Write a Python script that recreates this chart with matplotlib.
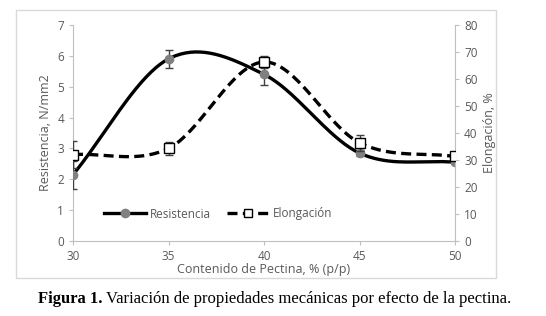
import matplotlib.pyplot as plt
import matplotlib.patches as patches
import numpy as np

pectina = [30, 35, 40, 45, 50]
resistencia = [2.15, 5.9, 5.4, 2.85, 2.55]
resistencia_err = [0.45, 0.3, 0.35, 0.1, 0.05]
elongacion = [32.0, 34.3, 66.3, 36.4, 31.3]
elongacion_err = [5.0, 2.5, 2.2, 3.0, 1.0]

GRAY = '#595959'
AXIS = '#bfbfbf'


def smooth(x, y, n=40):
    # excel-like smoothed line (catmull-rom through the points)
    x = np.asarray(x, float)
    y = np.asarray(y, float)
    px = np.concatenate(([2*x[0]-x[1]], x, [2*x[-1]-x[-2]]))
    py = np.concatenate(([2*y[0]-y[1]], y, [2*y[-1]-y[-2]]))
    xs, ys = [], []
    t = np.linspace(0, 1, n)
    for i in range(1, len(px)-2):
        p0, p1, p2, p3 = [np.array([px[j], py[j]]) for j in range(i-1, i+3)]
        c1 = p1 + (p2 - p0) / 6.0
        c2 = p2 - (p3 - p1) / 6.0
        pts = ((1-t)**3)[:, None]*p1 + (3*(1-t)**2*t)[:, None]*c1 + \
              (3*(1-t)*t**2)[:, None]*c2 + (t**3)[:, None]*p2
        xs.extend(pts[:, 0])
        ys.extend(pts[:, 1])
    return np.array(xs), np.array(ys)


plt.rcParams['font.family'] = ['Open Sans', 'DejaVu Sans']
fig = plt.figure(figsize=(5.46, 3.16), dpi=100)
fig.patch.set_facecolor('white')

frame = patches.Rectangle((16/546, 1-278/316), 480/546, 268/316, transform=fig.transFigure,
                          fill=False, edgecolor='#d9d9d9', linewidth=1.0)
fig.patches.append(frame)

ax = fig.add_axes([73/546, 75/316, 382/546, 216/316])
ax2 = ax.twinx()

sx, sy = smooth(pectina, resistencia)
ax.plot(sx, sy, color='black', linewidth=2.4, zorder=3)
ax.errorbar(pectina, resistencia, yerr=resistencia_err, fmt='none', ecolor='#404040',
            elinewidth=1.0, capsize=3, zorder=4)
ax.plot(pectina, resistencia, 'o', color='#808080', markersize=6, zorder=5)

ex, ey = smooth(pectina, elongacion)
ax2.plot(ex, ey, color='black', linewidth=2.4, linestyle=(0, (3, 1.6)), zorder=3)
ax2.errorbar(pectina, elongacion, yerr=elongacion_err, fmt='none', ecolor='#404040',
             elinewidth=1.0, capsize=3, zorder=4)
ax2.plot(pectina, elongacion, 's', markerfacecolor='white', markeredgecolor='black',
         markersize=6.5, markeredgewidth=1.0, zorder=5)

ax.set_xlim(30, 50)
ax.set_ylim(0, 7)
ax2.set_ylim(0, 80)
ax.set_xticks([30, 35, 40, 45, 50])
ax.set_yticks(range(0, 8))
ax2.set_yticks(range(0, 81, 10))

for a in (ax, ax2):
    for s in a.spines.values():
        s.set_visible(False)
    a.tick_params(colors=GRAY, labelsize=8.5, length=3, width=0.8, color=AXIS)
    a.patch.set_visible(False)
ax.spines['left'].set_visible(True)
ax.spines['bottom'].set_visible(True)
ax2.spines['right'].set_visible(True)
ax.spines['left'].set_color(AXIS)
ax.spines['bottom'].set_color(AXIS)
ax2.spines['right'].set_color(AXIS)

ax.set_xlabel('Contenido de Pectina, % (p/p)', color=GRAY, fontsize=9, labelpad=0)
ax.set_ylabel('Resistencia, N/mm2', color=GRAY, fontsize=9, labelpad=4)
ax2.set_ylabel('Elongación, %', color=GRAY, fontsize=9, labelpad=4)

h1 = plt.Line2D([], [], color='black', linewidth=2.4, marker='o', markerfacecolor='#808080',
                markeredgecolor='#808080', markersize=6)
h2 = plt.Line2D([], [], color='black', linewidth=2.4, linestyle=(0, (3, 1.6)), marker='s',
                markerfacecolor='white', markeredgecolor='black', markersize=6)
leg = ax.legend([h1, h2], ['Resistencia', 'Elongación'], loc='center', bbox_to_anchor=(0.38, 0.125),
                ncol=2, frameon=False, fontsize=8.5, handlelength=3.6, handletextpad=0.3,
                columnspacing=1.4, labelcolor=GRAY)

t1 = fig.text(38/546, 1-299/316, 'Figura 1.', fontfamily='Liberation Serif', fontweight='bold',
              fontsize=12, va='center', ha='left')
fig.canvas.draw()
bb = t1.get_window_extent()
fig.text(bb.x1/546 + 3/546, 1-299/316, 'Variación de propiedades mecánicas por efecto de la pectina.',
         fontfamily='Liberation Serif', fontsize=12, va='center', ha='left')

fig.savefig('out.png', dpi=100)
